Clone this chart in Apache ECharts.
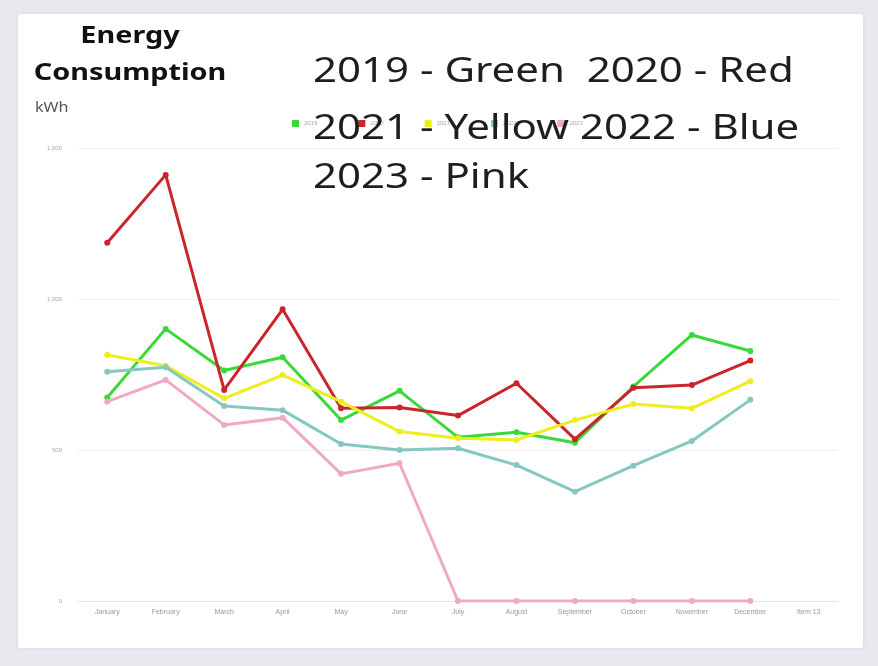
<!DOCTYPE html>
<html lang="en">
<head>
<meta charset="UTF-8" />
<title>Energy Consumption</title>
<script src="https://cdn.jsdelivr.net/npm/echarts@6/dist/echarts.min.js"></script>
<style>
  html, body { margin: 0; padding: 0; background: #e8e9ee; }
  #chart { width: 878px; height: 666px; }
</style>
</head>
<body>
<div id="chart"></div>
<script>
const months = ['January', 'February', 'March', 'April', 'May', 'June', 'July',
    'August', 'September', 'October', 'November', 'December', 'Item 13'];
const yTicks = [0, 500, 1000, 1500];

const years = ['2019', '2020', '2021', '2022', '2023'];
const colors = ['#3ad93a', '#c9252b', '#eeee1e', '#86c8c0', '#f0a8c6'];

const v2019 = [674, 901, 763, 807, 599, 696, 542, 559, 524, 710, 881, 828];
const v2020 = [1186, 1411, 699, 966, 638, 641, 614, 721, 536, 706, 715, 796];
const v2021 = [815, 779, 671, 748, 660, 561, 539, 533, 599, 652, 638, 728];
const v2022 = [759, 774, 646, 632, 520, 500, 506, 450, 362, 448, 530, 666];
const v2023 = [660, 732, 583, 607, 421, 456, 0, 0, 0, 0, 0, 0];

const overlayLines = ['2019 - Green  2020 - Red', '2021 - Yellow 2022 - Blue', '2023 - Pink'];

const chart = echarts.init(document.getElementById('chart'));

const allValues = [v2019, v2020, v2021, v2022, v2023];
const series = years.map((name, i) => ({
    name: name,
    type: 'line',
    data: allValues[i],
    symbol: 'circle',
    symbolSize: 6,
    lineStyle: { width: 3, color: colors[i] },
    itemStyle: { color: colors[i] },
    z: 2 + i
}));

// big hand-written key that sits over the real legend
const overlay = overlayLines.map((t, i) => ({
    type: 'text',
    x: 313,
    y: [72, 129, 178][i],
    scaleX: 1.2,
    z: 100,
    style: {
        text: t,
        fontFamily: 'Noto Sans',
        fontSize: 35,
        fill: '#1e1e1e',
        verticalAlign: 'middle'
    }
}));

const option = {
    animation: false,
    backgroundColor: 'transparent',
    color: colors,
    graphic: [
        {
            type: 'rect', z: -10,
            shape: { x: 18, y: 14, width: 845, height: 634, r: 3 },
            style: { fill: '#ffffff', shadowBlur: 4, shadowColor: 'rgba(0,0,0,0.08)' }
        },
        {
            type: 'text', x: 130, y: 36, scaleX: 1.2, z: 100,
            style: { text: 'Energy', fontFamily: 'Noto Sans', fontWeight: 'bold', fontSize: 24, fill: '#111', align: 'center', verticalAlign: 'middle' }
        },
        {
            type: 'text', x: 130, y: 73, scaleX: 1.2, z: 100,
            style: { text: 'Consumption', fontFamily: 'Noto Sans', fontWeight: 'bold', fontSize: 24, fill: '#111', align: 'center', verticalAlign: 'middle' }
        },
        {
            type: 'text', x: 35, y: 108, scaleX: 1.15, z: 100,
            style: { text: 'kWh', fontFamily: 'Noto Sans', fontSize: 14, fill: '#555', verticalAlign: 'middle' }
        }
    ].concat(overlay),
    legend: {
        data: years,
        left: 287,
        top: 115,
        itemWidth: 7,
        itemHeight: 7,
        itemGap: 41,
        icon: 'rect',
        textStyle: { fontSize: 6, color: '#aaa' }
    },
    grid: { left: 78, right: 40, top: 148, bottom: 65 },
    xAxis: {
        type: 'category',
        boundaryGap: true,
        data: months,
        axisLine: { lineStyle: { color: '#e6e6e6' } },
        axisTick: { show: false },
        axisLabel: { fontSize: 7, color: '#999', margin: 8, interval: 0 }
    },
    yAxis: {
        type: 'value',
        min: yTicks[0],
        max: yTicks[yTicks.length - 1],
        interval: yTicks[1] - yTicks[0],
        axisLine: { show: false },
        axisTick: { show: false },
        splitLine: { lineStyle: { color: '#efefef' } },
        axisLabel: { fontSize: 6, color: '#aaa', margin: 16 }
    },
    series: series
};
chart.setOption(option);
</script>
</body>
</html>
